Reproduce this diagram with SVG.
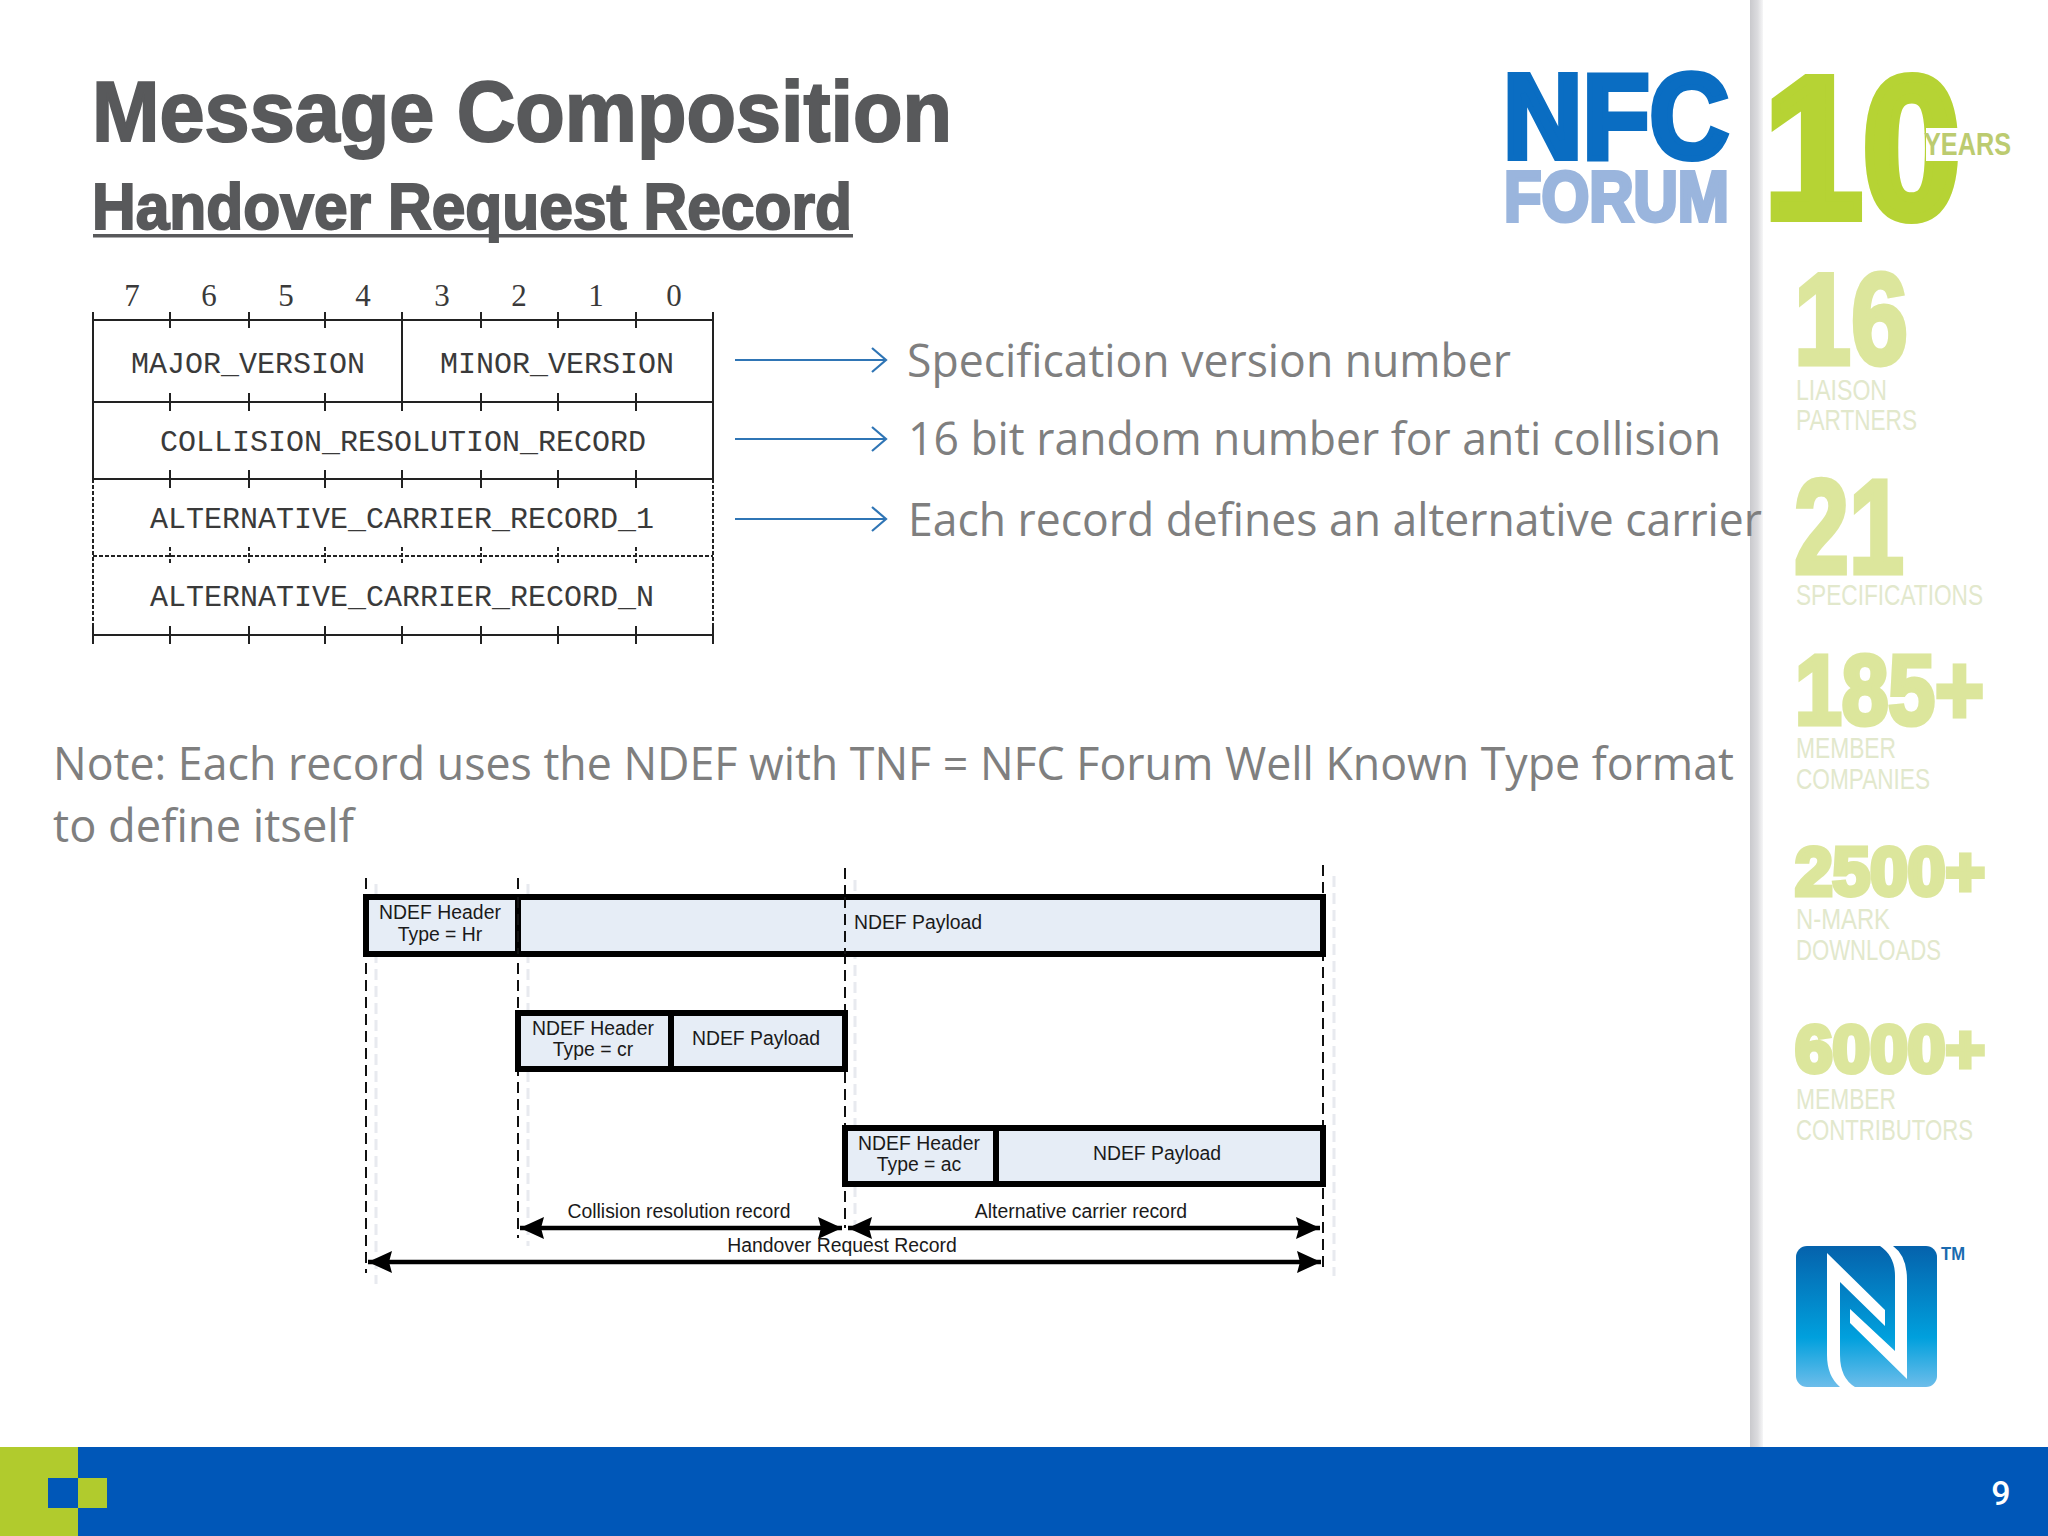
<svg xmlns="http://www.w3.org/2000/svg" width="2048" height="1536" viewBox="0 0 2048 1536">
<style>
.title{font-family:"Liberation Sans",Arial,sans-serif;font-weight:700;fill:#58595b;stroke:#58595b;stroke-width:2}
.body{font-family:"Open Sans","Noto Sans",sans-serif;font-size:45px;fill:#7f7f7f}
.mono{font-family:"Liberation Mono","Courier New",monospace;font-size:30px;fill:#3a3a3a;text-anchor:middle}
.digit{font-family:"Liberation Serif","Times New Roman",serif;font-size:31px;fill:#3a3a3a;text-anchor:middle}
.tl{stroke:#222;stroke-width:2;fill:none}
.td{stroke:#222;stroke-width:2;fill:none;stroke-dasharray:4 2}
.arrow{stroke:#2f75b5;stroke-width:2.2;fill:none;marker-end:url(#open)}
.box{fill:#e6edf6;stroke:#000;stroke-width:6}
.sep{stroke:#000;stroke-width:6}
.lab{font-family:"Liberation Sans",Arial,sans-serif;font-size:19.4px;fill:#1a1a1a;text-anchor:middle}
.dash{stroke:#111;stroke-width:2;stroke-dasharray:11 6;fill:none}
.ghost{stroke:#e8eaef;stroke-width:3;stroke-dasharray:11 6;fill:none}
.dim{stroke:#000;stroke-width:4.5;fill:none;marker-start:url(#solid);marker-end:url(#solid)}
.big{font-family:"Liberation Sans",Arial,sans-serif;font-weight:700;stroke-linejoin:miter}
.stat{fill:#dce69c;stroke:#dce69c;stroke-width:5}
.cap{font-family:"Liberation Sans",Arial,sans-serif;font-size:30px;fill:#e2e8cc}
</style>
<defs>
<marker id="open" markerUnits="userSpaceOnUse" markerWidth="24" markerHeight="26" refX="22" refY="13" orient="auto"><path d="M8 1 L22 13 L8 25" fill="none" stroke="#2f75b5" stroke-width="2.2"/></marker>
<marker id="solid" markerUnits="userSpaceOnUse" markerWidth="26" markerHeight="24" refX="24" refY="12" orient="auto-start-reverse"><path d="M0 1 L24 12 L0 23 L3 12 Z" fill="#000"/></marker>
<linearGradient id="stripe" x1="0" x2="1" y1="0" y2="0"><stop offset="0" stop-color="#c9c9cd"/><stop offset="0.6" stop-color="#dcdcdf"/><stop offset="1" stop-color="#f6f6f7"/></linearGradient>
<linearGradient id="nmark" x1="0" x2="0" y1="0" y2="1"><stop offset="0" stop-color="#0562ac"/><stop offset="0.65" stop-color="#00a0dd"/><stop offset="1" stop-color="#6dbdea"/></linearGradient>
</defs>
<rect width="2048" height="1536" fill="#fff"/>
<rect id="sidebar-stripe" x="1750" y="0" width="13" height="1447" fill="url(#stripe)"/>

<g id="heading">
<text class="title" x="92" y="141" font-size="86" textLength="860" lengthAdjust="spacingAndGlyphs">Message Composition</text>
<text class="title" x="92" y="229" font-size="64" textLength="760" lengthAdjust="spacingAndGlyphs">Handover Request Record</text>
<rect x="93" y="234" width="760" height="3.5" fill="#58595b"/>
</g>

<g id="bit-table">
<g class="digits">
<text class="digit" x="132" y="306">7</text><text class="digit" x="209" y="306">6</text><text class="digit" x="286" y="306">5</text><text class="digit" x="363" y="306">4</text><text class="digit" x="442" y="306">3</text><text class="digit" x="519" y="306">2</text><text class="digit" x="596" y="306">1</text><text class="digit" x="674" y="306">0</text>
</g>
<path class="tl" d="M93 320H713M93 402H713M93 479H713M93 635H713M93 320V479M713 320V479M402 312V402"/>
<path class="td" d="M93 556H713M93 479V635M713 479V635"/>
<path class="tl" d="M93 312V328M170 312V328M249 312V328M325 312V328M481 312V328M558 312V328M636 312V328M713 312V328
M170 393V411M249 393V411M325 393V411M402 393V411M481 393V411M558 393V411M636 393V411
M170 470V488M249 470V488M325 470V488M402 470V488M481 470V488M558 470V488M636 470V488
M93 626V644M170 626V644M249 626V644M325 626V644M402 626V644M481 626V644M558 626V644M636 626V644M713 626V644"/>
<path class="td" d="M170 547V565M249 547V565M325 547V565M402 547V565M481 547V565M558 547V565M636 547V565"/>
<text class="mono" x="248" y="373">MAJOR_VERSION</text>
<text class="mono" x="557" y="373">MINOR_VERSION</text>
<text class="mono" x="403" y="451">COLLISION_RESOLUTION_RECORD</text>
<text class="mono" x="402" y="528">ALTERNATIVE_CARRIER_RECORD_1</text>
<text class="mono" x="402" y="606">ALTERNATIVE_CARRIER_RECORD_N</text>
</g>

<g id="connectors">
<line class="arrow" x1="735" y1="360" x2="886" y2="360"/>
<line class="arrow" x1="735" y1="439" x2="886" y2="439"/>
<line class="arrow" x1="735" y1="519" x2="886" y2="519"/>
<g id="guides">
<path class="ghost" d="M376 884V1284M528 884V1246M855 880V1236M1334 876V1276"/>
<path class="dash" d="M366 878V1273M518 878V1238M845 868V1228M1323 865V1267"/>
</g>
<line class="dim" x1="520" y1="1228" x2="842" y2="1228"/>
<line class="dim" x1="848" y1="1228" x2="1320" y2="1228"/>
<line class="dim" x1="368" y1="1262" x2="1321" y2="1262"/>
</g>

<g id="notes">
<text class="body" x="907" y="377" textLength="604" lengthAdjust="spacingAndGlyphs">Specification version number</text>
<text class="body" x="908" y="455" textLength="813" lengthAdjust="spacingAndGlyphs">16 bit random number for anti collision</text>
<text class="body" x="908" y="536" textLength="854" lengthAdjust="spacingAndGlyphs">Each record defines an alternative carrier</text>
<text class="body" x="53" y="780" textLength="1681" lengthAdjust="spacingAndGlyphs">Note: Each record uses the NDEF with TNF = NFC Forum Well Known Type format</text>
<text class="body" x="53" y="842" textLength="301" lengthAdjust="spacingAndGlyphs">to define itself</text>
</g>

<g id="record-hr">
<rect class="box" x="366" y="897" width="957" height="57"/>
<line class="sep" x1="518" y1="897" x2="518" y2="954"/>
<text class="lab" x="440" y="919">NDEF Header</text>
<text class="lab" x="440" y="941">Type = Hr</text>
<text class="lab" x="918" y="929">NDEF Payload</text>
</g>
<path class="dash" d="M518 897V954M845 897V954"/>
<g id="record-cr">
<rect class="box" x="518" y="1013" width="327" height="56"/>
<line class="sep" x1="671" y1="1013" x2="671" y2="1069"/>
<text class="lab" x="593" y="1035">NDEF Header</text>
<text class="lab" x="593" y="1056">Type = cr</text>
<text class="lab" x="756" y="1045">NDEF Payload</text>
</g>
<g id="record-ac">
<rect class="box" x="845" y="1128" width="478" height="56"/>
<line class="sep" x1="996" y1="1128" x2="996" y2="1184"/>
<text class="lab" x="919" y="1150">NDEF Header</text>
<text class="lab" x="919" y="1171">Type = ac</text>
<text class="lab" x="1157" y="1160">NDEF Payload</text>
</g>
<g id="dimension-labels">
<text class="lab" x="679" y="1218">Collision resolution record</text>
<text class="lab" x="1081" y="1218">Alternative carrier record</text>
<text class="lab" x="842" y="1252">Handover Request Record</text>
</g>

<g id="logo-nfc-forum">
<text class="big" x="1503" y="158" font-size="120" fill="#0a6dc2" stroke="#0a6dc2" stroke-width="6" textLength="226" lengthAdjust="spacingAndGlyphs">NFC</text>
<text class="big" x="1504" y="221" font-size="70" fill="#9ab5dd" stroke="#9ab5dd" stroke-width="4" textLength="225" lengthAdjust="spacingAndGlyphs">FORUM</text>
</g>
<g id="logo-10-years">
<text class="big" x="1764" y="217" font-size="200" fill="#b6d334" stroke="#b6d334" stroke-width="10" textLength="197" lengthAdjust="spacingAndGlyphs">10</text>
<rect x="1926" y="128" width="85" height="33" fill="#fff"/>
<text x="1924" y="155" font-family="'Liberation Sans',Arial,sans-serif" font-weight="700" font-size="32" fill="#bccb70" textLength="87" lengthAdjust="spacingAndGlyphs">YEARS</text>
</g>
<g id="stat-liaison">
<text class="big stat" x="1794" y="364" font-size="130" textLength="114" lengthAdjust="spacingAndGlyphs">16</text>
<text class="cap" x="1796" y="400" textLength="91" lengthAdjust="spacingAndGlyphs">LIAISON</text>
<text class="cap" x="1796" y="430" textLength="121" lengthAdjust="spacingAndGlyphs">PARTNERS</text>
</g>
<g id="stat-specifications">
<text class="big stat" x="1794" y="573" font-size="133" textLength="110" lengthAdjust="spacingAndGlyphs">21</text>
<text class="cap" x="1796" y="605" textLength="187" lengthAdjust="spacingAndGlyphs">SPECIFICATIONS</text>
</g>
<g id="stat-members">
<text class="big stat" x="1795" y="724" font-size="98" textLength="189" lengthAdjust="spacingAndGlyphs">185+</text>
<text class="cap" x="1796" y="758" textLength="100" lengthAdjust="spacingAndGlyphs">MEMBER</text>
<text class="cap" x="1796" y="789" textLength="134" lengthAdjust="spacingAndGlyphs">COMPANIES</text>
</g>
<g id="stat-downloads">
<text class="big stat" x="1795" y="895" font-size="68" textLength="190" lengthAdjust="spacingAndGlyphs">2500+</text>
<text class="cap" x="1796" y="929" textLength="94" lengthAdjust="spacingAndGlyphs">N-MARK</text>
<text class="cap" x="1796" y="960" textLength="145" lengthAdjust="spacingAndGlyphs">DOWNLOADS</text>
</g>
<g id="stat-contributors">
<text class="big stat" x="1795" y="1072" font-size="67" textLength="190" lengthAdjust="spacingAndGlyphs">6000+</text>
<text class="cap" x="1796" y="1109" textLength="100" lengthAdjust="spacingAndGlyphs">MEMBER</text>
<text class="cap" x="1796" y="1140" textLength="177" lengthAdjust="spacingAndGlyphs">CONTRIBUTORS</text>
</g>
<g id="n-mark">
<rect x="1796" y="1246" width="141" height="141" rx="11" fill="url(#nmark)"/>
<path fill="#fff" d="M1827 1253L1885 1310V1326L1840 1282V1355Q1840 1378 1855 1387H1840Q1827 1376 1827 1355Z"/>
<path fill="#fff" d="M1893 1246H1880Q1895 1256 1895 1276V1351L1850 1309V1323L1907 1379V1280Q1907 1256 1893 1246Z"/>
<text x="1941" y="1260" font-family="'Liberation Sans',Arial,sans-serif" font-weight="700" font-size="19" fill="#1a6bb0" textLength="24" lengthAdjust="spacingAndGlyphs">TM</text>
</g>

<g id="footer">
<rect x="0" y="1447" width="2048" height="89" fill="#0057b8"/>
<rect x="0" y="1447" width="78" height="89" fill="#b1cb2d"/>
<rect x="48" y="1478" width="30" height="30" fill="#0057b8"/>
<rect x="78" y="1478" width="29" height="30" fill="#b1cb2d"/>
<text x="2001" y="1505" font-family="Roboto,'Liberation Sans',sans-serif" font-weight="500" font-size="34" fill="#fff" text-anchor="middle">9</text>
</g>
</svg>
